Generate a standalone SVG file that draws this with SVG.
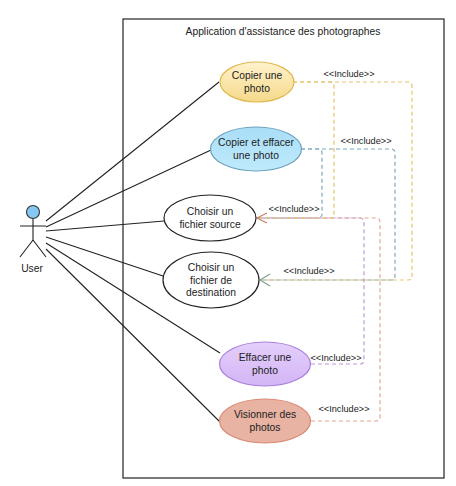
<svg xmlns="http://www.w3.org/2000/svg" width="456" height="486" viewBox="0 0 456 486">
<defs>
<linearGradient id="gy" x1="0" y1="0" x2="0" y2="1"><stop offset="0" stop-color="#fff2cc"/><stop offset="1" stop-color="#f5d98a"/></linearGradient>
<linearGradient id="gb" x1="0" y1="0" x2="0" y2="1"><stop offset="0" stop-color="#a8def7"/><stop offset="1" stop-color="#bfeafc"/></linearGradient>
<linearGradient id="gp" x1="0" y1="0" x2="0" y2="1"><stop offset="0" stop-color="#e4cffb"/><stop offset="1" stop-color="#d3b5f5"/></linearGradient>
</defs>
<style>
text{font-family:"Liberation Sans",Arial,sans-serif;font-size:10.3px;fill:#222;text-anchor:middle}
.s{font-size:9.2px}
.a{fill:none;stroke:#222;stroke-width:1.1}
.d{fill:none;stroke-width:1.2;stroke-dasharray:4 3}
.e{stroke-width:1.2}
</style>
<rect x="123" y="19" width="321" height="459" fill="#fff" stroke="#222" stroke-width="1.2"/>
<text x="283" y="35">Application d'assistance des photographes</text>
<g id="connectors">
<path class="a" d="M46 221L219 82M46 227L211 150M46 231L164 221M46 237L163 276M46 243L220 353M46 249L220 422"/>
<path class="d" stroke="#7fa8bd" d="M301 149H318Q322 149 322 153V214Q322 218 318 218H257"/>
<path class="d" stroke="#7fa8bd" d="M301 149H391Q395 149 395 153V276Q395 280 391 280H260"/>
<path class="d" stroke="#b99be0" d="M311 364H360Q364 364 364 360V222Q364 218 360 218H257"/>
<path class="d" stroke="#e5a593" d="M311 421H376Q380 421 380 417V222Q380 218 376 218H257"/>
<path class="d" stroke="#e6c46a" d="M293 82H330Q334 82 334 86V214Q334 218 330 218H257"/>
<path class="d" stroke="#e6c46a" d="M293 82H408Q412 82 412 86V276Q412 280 408 280H260"/>
<path d="M267 213L257 218L267 223" fill="none" stroke="#c9806d" stroke-width="1.2"/>
<path d="M270 274L260 280L270 286" fill="none" stroke="#7fa08a" stroke-width="1.2"/>
</g>
<g id="actor-user">
<circle cx="33" cy="212" r="6.500" fill="#82c8f2" stroke="#333" stroke-width="1.1"/>
<path class="a" d="M33 219V240M20 226H46M33 240L20 257M33 240L46 257"/>
<text x="32" y="272">User</text>
</g>
<g id="copier"><ellipse class="e" cx="257" cy="82" rx="37" ry="20" fill="url(#gy)" stroke="#e0b850"/><text x="257" y="79">Copier une</text><text x="257" y="92">photo</text></g>
<g id="copier-effacer"><ellipse class="e" cx="256" cy="149" rx="45.500" ry="22" fill="url(#gb)" stroke="#6fa3bd"/><text x="256" y="146">Copier et effacer</text><text x="256" y="159">une photo</text></g>
<g id="source"><ellipse class="e" cx="210" cy="218" rx="46" ry="23" fill="#fff" stroke="#222"/><text x="210" y="215">Choisir un</text><text x="210" y="228">fichier source</text></g>
<g id="destination"><ellipse class="e" cx="211" cy="280" rx="48" ry="28" fill="#fff" stroke="#222"/><text x="211" y="271">Choisir un</text><text x="211" y="283.500">fichier de</text><text x="211" y="296">destination</text></g>
<g id="effacer"><ellipse class="e" cx="265" cy="364" rx="45.500" ry="22" fill="url(#gp)" stroke="#a880dc"/><text x="265" y="361">Effacer une</text><text x="265" y="374">photo</text></g>
<g id="visionner"><ellipse class="e" cx="265" cy="421" rx="45.500" ry="22" fill="#e8b3a3" stroke="#d98a72"/><text x="265" y="418">Visionner des</text><text x="265" y="431">photos</text></g>
<g id="labels">
<text class="s" x="349" y="77">&lt;&lt;Include&gt;&gt;</text>
<text class="s" x="366" y="144">&lt;&lt;Include&gt;&gt;</text>
<text class="s" x="294" y="212">&lt;&lt;Include&gt;&gt;</text>
<text class="s" x="309" y="274">&lt;&lt;Include&gt;&gt;</text>
<text class="s" x="336" y="361">&lt;&lt;Include&gt;&gt;</text>
<text class="s" x="344" y="412">&lt;&lt;Include&gt;&gt;</text>
</g>
</svg>
